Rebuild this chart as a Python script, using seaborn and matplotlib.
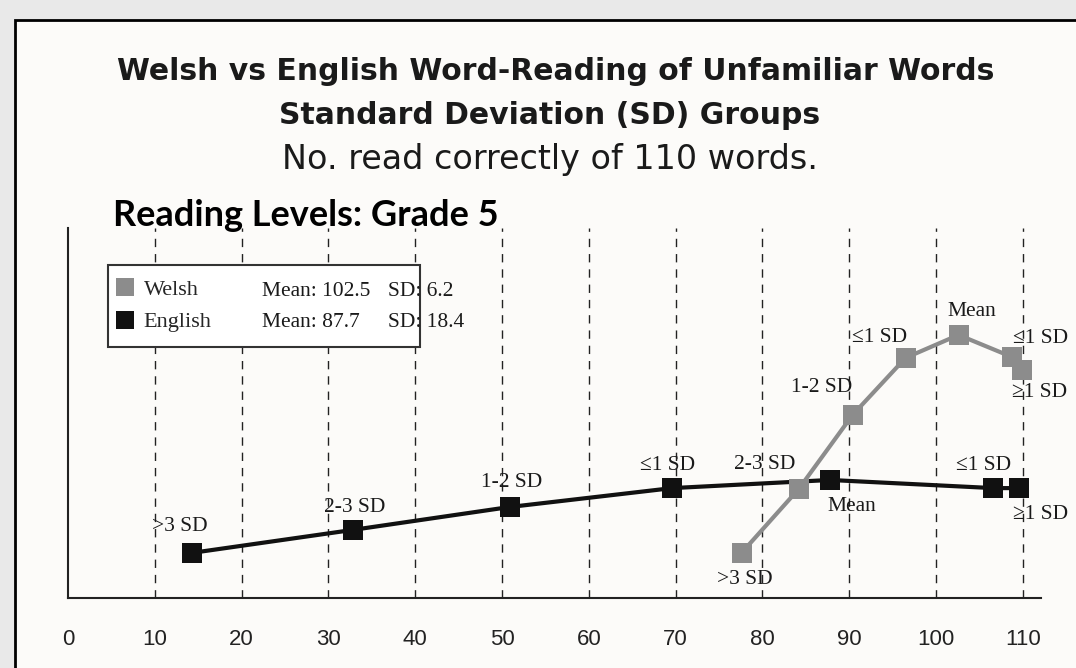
import matplotlib
matplotlib.use("Agg")
import matplotlib.pyplot as plt
from matplotlib.patches import Rectangle
from matplotlib.lines import Line2D
import seaborn as sns
import pandas as pd

# ---- data (y in arbitrary plot units 0-100) ----
english_x = [14.3, 32.8, 50.9, 69.6, 87.8, 106.6, 109.6]
english_y = [12.2, 18.4, 24.6, 29.7, 31.9, 29.7, 29.7]
welsh_x = [77.6, 84.2, 90.4, 96.5, 102.6, 108.8, 109.9]
welsh_y = [12.2, 29.5, 49.5, 64.9, 71.1, 65.1, 61.6]
point_labels = [">3 SD", "2-3 SD", "1-2 SD", "\u22641 SD", "Mean", "\u22641 SD", "\u22651 SD"]
x_ticks = [0, 10, 20, 30, 40, 50, 60, 70, 80, 90, 100, 110]
legend_names = ["Welsh", "English"]
legend_means = ["Mean: 102.5", "Mean: 87.7"]
legend_sds = ["SD: 6.2", "SD: 18.4"]

sns.set_theme(style="white")
plt.rcParams["font.family"] = ["Liberation Sans", "DejaVu Sans"]

W, H = 1076, 668
fig = plt.figure(figsize=(W / 100, H / 100), dpi=100)
fig.patch.set_facecolor("#e9e9e9")
# slide panel
fig.patches.append(Rectangle((15 / W, -0.01), 1.01 - 15 / W, 1.01 - 20 / H, transform=fig.transFigure,
                             facecolor="#fcfbf9", edgecolor="black", linewidth=2, zorder=-5))

ax = fig.add_axes([68 / W, (H - 598) / H, (1041 - 68) / W, (598 - 228) / H])
ax.set_facecolor("none")
ax.set_zorder(1)

df = pd.DataFrame({
    "x": english_x + welsh_x,
    "y": english_y + welsh_y,
    "Language": ["English"] * len(english_x) + ["Welsh"] * len(welsh_x),
})
colors = {"Welsh": "#8c8c8c", "English": "#111111"}

for lang in ["English", "Welsh"]:
    sub = df[df["Language"] == lang]
    sns.lineplot(data=sub, x="x", y="y", color=colors[lang], linewidth=3.0,
                 marker="s", markersize=15, markeredgewidth=0, estimator=None,
                 sort=False, legend=False, ax=ax, zorder=3)

ax.set_xlim(0, 112.1)
ax.set_ylim(0, 100)
ax.set_xticks(x_ticks)
ax.set_xticklabels([str(t) for t in x_ticks])
ax.set_yticks([])
ax.set_xlabel("")
ax.set_ylabel("")
ax.tick_params(axis="x", length=0, pad=22, labelsize=16, labelcolor="#222222")
for v in x_ticks[1:]:
    ax.axvline(v, color="#222222", linewidth=1.0, linestyle=(0, (6, 5)), zorder=1)
for s in ["top", "right"]:
    ax.spines[s].set_visible(False)
for s in ["left", "bottom"]:
    ax.spines[s].set_color("#222222")
    ax.spines[s].set_linewidth(1.5)

serif = ["Liberation Serif", "DejaVu Serif"]
eng_off = [(-12, 26), (2, 22), (2, 24), (-5, 23), (22, -27), (-10, 23), (21, -26)]
wel_off = [(3, -27), (-34, 24), (-31, 27), (-26, 20), (13, 23), (28, 19), (18, -22)]
for xs, ys, offs in [(english_x, english_y, eng_off), (welsh_x, welsh_y, wel_off)]:
    for xv, yv, lab, off in zip(xs, ys, point_labels, offs):
        ax.annotate(lab, (xv, yv), xytext=off, textcoords="offset pixels",
                    ha="center", va="center", fontsize=15.5, family=serif,
                    color="#1a1a1a", zorder=5)

# legend box (drawn above the axes so it hides the dashed lines)
lx0, ly0, lx1, ly1 = 108, 265, 420, 347
box = Rectangle((lx0 / W, 1 - ly1 / H), (lx1 - lx0) / W, (ly1 - ly0) / H,
                transform=fig.transFigure, facecolor="white",
                edgecolor="#333333", linewidth=1.5, zorder=4)
fig.add_artist(box)
handles = [Line2D([], [], linestyle="none", marker="s", markersize=12.5,
                  color=colors[n], markeredgewidth=0) for n in legend_names]
leg = fig.legend(handles, legend_names, loc="upper left",
                 bbox_to_anchor=(116 / W, 1 - 279 / H),
                 frameon=False, prop={"family": serif, "size": 16},
                 handlelength=0.8, handletextpad=0.45, labelspacing=0.55,
                 borderaxespad=0, borderpad=0)
leg.set_zorder(6)
row_y = [292, 323]
for i in range(2):
    fig.text(262 / W, 1 - row_y[i] / H, legend_means[i], family=serif, fontsize=15.5,
             va="center", ha="left", color="#1a1a1a", zorder=7)
    fig.text(388 / W, 1 - row_y[i] / H, legend_sds[i], family=serif, fontsize=15.5,
             va="center", ha="left", color="#1a1a1a", zorder=7)

# titles
fig.text(556 / W, 1 - 72 / H, "Welsh vs English Word-Reading of Unfamiliar Words",
         ha="center", va="center", fontsize=21.5, fontweight="bold", color="#1a1a1a",
         family=["DejaVu Sans"])
fig.text(550 / W, 1 - 115 / H, "Standard Deviation (SD) Groups",
         ha="center", va="center", fontsize=21.5, fontweight="bold", color="#1a1a1a",
         family=["DejaVu Sans"])
fig.text(550 / W, 1 - 160 / H, "No. read correctly of 110 words.",
         ha="center", va="center", fontsize=24, color="#1a1a1a",
         family=["DejaVu Sans"])
fig.text(113 / W, 1 - 215 / H, "Reading Levels: Grade 5",
         ha="left", va="center", fontsize=26, fontweight="bold", color="black",
         family=["Lato", "DejaVu Sans"])

fig.savefig("out.png", dpi=100, facecolor=fig.get_facecolor())
